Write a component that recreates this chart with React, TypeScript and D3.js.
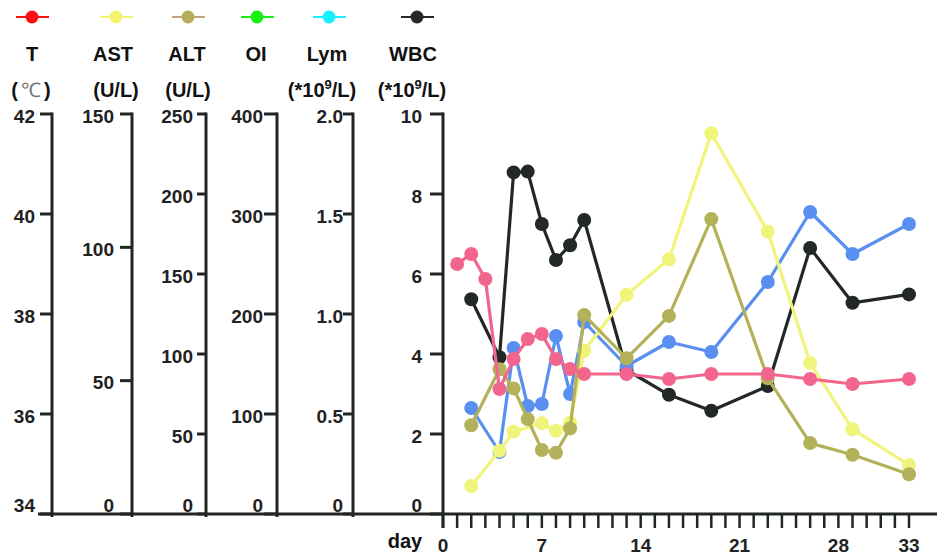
import React from "react";
import * as d3 from "d3";

// ---------- data ----------
const days = [0, 7, 14, 21, 28, 33];
const tDays = [1, 2, 3, 4, 5, 6, 7, 8, 9, 10, 13, 16, 19, 23, 26, 29, 33];
const tValues = [39.0, 39.2, 38.7, 36.5, 37.1, 37.5, 37.6, 37.1, 36.9, 36.8, 36.8, 36.7, 36.8, 36.8, 36.7, 36.6, 36.7];
const labDays = [2, 4, 5, 6, 7, 8, 9, 10, 13, 16, 19, 23, 26, 29, 33];
const astDays = [2, 4, 5, 7, 8, 9, 10, 13, 16, 19, 23, 26, 29, 33];
const astValues = [10.5, 23.7, 30.9, 34.0, 31.2, 34.3, 61.2, 82.2, 95.5, 142.8, 105.9, 56.6, 31.8, 18.4];
const altValues = [55.5, 90.5, 78.5, 59.3, 40.0, 38.3, 53.5, 124.3, 97.3, 123.8, 184.3, 84.8, 44.3, 37.0, 24.8];
const lymValues = [0.53, 0.31, 0.83, 0.54, 0.55, 0.89, 0.6, 0.96, 0.74, 0.86, 0.81, 1.16, 1.51, 1.3, 1.45];
const wbcValues = [5.37, 3.92, 8.54, 8.56, 7.25, 6.35, 6.72, 7.35, 3.6, 2.98, 2.58, 3.2, 6.65, 5.28, 5.49];

const tTicks = [34, 36, 38, 40, 42];
const astTicks = [0, 50, 100, 150];
const altTicks = [0, 50, 100, 150, 200, 250];
const oiTicks = [0, 100, 200, 300, 400];
const lymTicks = [0, 0.5, 1.0, 1.5, 2.0];
const wbcTicks = [0, 2, 4, 6, 8, 10];
const dayTicks = d3.range(0, 34);

const seriesNames = ["T", "AST", "ALT", "OI", "Lym", "WBC"];

// ---------- layout / style ----------
const W = 937;
const H = 559;
const Y_TOP = 114;
const Y_BOT = 514;
const AXIS_COLOR = "#202624";
const FONT = "'Liberation Sans', Arial, sans-serif";

const x = d3.scaleLinear().domain([0, 33]).range([443, 909]);
const mkY = (ticks: number[]) =>
  d3.scaleLinear().domain(d3.extent(ticks) as [number, number]).range([Y_BOT, Y_TOP]);

const axes = [
  { name: "T", ticks: tTicks, ax: 52, tickLen: 12, lab: 17, fmt: (v: number) => String(v), legendX: 32, legendColor: "#ff1010", legendLine: "#ff1010" },
  { name: "AST", ticks: astTicks, ax: 132, tickLen: 12, lab: 18, fmt: (v: number) => String(v), legendX: 116, legendColor: "#f3f36e", legendLine: "#f3f36e" },
  { name: "ALT", ticks: altTicks, ax: 206, tickLen: 9, lab: 13, fmt: (v: number) => String(v), legendX: 188, legendColor: "#b6ad5c", legendLine: "#c2a47e" },
  { name: "OI", ticks: oiTicks, ax: 277, tickLen: 13, lab: 14, fmt: (v: number) => String(v), legendX: 257, legendColor: "#18f018", legendLine: "#18f018" },
  { name: "Lym", ticks: lymTicks, ax: 353, tickLen: 10, lab: 10, fmt: (v: number) => (v === 0 ? "0" : d3.format(".1f")(v)), legendX: 329, legendColor: "#18f0ff", legendLine: "#18f0ff" },
  { name: "WBC", ticks: wbcTicks, ax: 443, tickLen: 13, lab: 21, fmt: (v: number) => String(v), legendX: 417, legendColor: "#232826", legendLine: "#232826" },
];

const titleX = [32, 113, 187, 256, 327, 413];

const yT = mkY(tTicks);
const yAST = mkY(astTicks);
const yALT = mkY(altTicks);
const yLym = mkY(lymTicks);
const yWBC = mkY(wbcTicks);

const series = [
  { key: "WBC", dx: labDays, vals: wbcValues, y: yWBC, color: "#222826" },
  { key: "Lym", dx: labDays, vals: lymValues, y: yLym, color: "#5a8ff2" },
  { key: "AST", dx: astDays, vals: astValues, y: yAST, color: "#f1f47a" },
  { key: "ALT", dx: labDays, vals: altValues, y: yALT, color: "#b3b159" },
  { key: "T", dx: tDays, vals: tValues, y: yT, color: "#f2668e" },
];

function Units({ i }: { i: number }) {
  const cx = [31, 116, 188, 256, 322, 412][i];
  const common = { x: cx, y: 97, textAnchor: "middle" as const, fontFamily: FONT, fontWeight: 700, fontSize: 20, fill: "#111" };
  if (i === 0)
    return (
      <text {...common}>
        (<tspan fontWeight={400} fill="#777" dx={3}>℃</tspan><tspan dx={3}>)</tspan>
      </text>
    );
  if (i === 1 || i === 2) return <text {...common}>(U/L)</text>;
  if (i === 4 || i === 5)
    return (
      <text {...common}>
        (*10<tspan fontSize={13} dy={-8}>9</tspan>
        <tspan dy={8}>/L)</tspan>
      </text>
    );
  return null;
}

export default function App() {
  return (
    <svg
      width={W}
      height={H}
      viewBox={`0 0 ${W} ${H}`}
      style={{ position: "absolute", left: 0, top: 0, background: "#fff", display: "block" }}
    >
      <rect width={W} height={H} fill="#fff" />
      {/* legend */}
      {axes.map((a, i) => (
        <g key={"lg" + i}>
          <line x1={a.legendX - 16} x2={a.legendX + 17} y1={17} y2={17} stroke={a.legendLine} strokeWidth={2.2} />
          <circle cx={a.legendX} cy={17} r={6.5} fill={a.legendColor} />
          <text x={titleX[i]} y={61} textAnchor="middle" fontFamily={FONT} fontWeight={700} fontSize={20} fill="#111">
            {seriesNames[i]}
          </text>
          <Units i={i} />
        </g>
      ))}

      {/* y axes */}
      {axes.map((a, i) => {
        const y = mkY(a.ticks);
        const minV = d3.min(a.ticks) as number;
        return (
          <g key={"ax" + i}>
            <line x1={a.ax} x2={a.ax} y1={Y_TOP - 1.5} y2={i === 5 ? 528 : Y_BOT + 3} stroke={AXIS_COLOR} strokeWidth={3} />
            {a.ticks.map((t) => (
              <g key={t}>
                <line x1={a.ax - a.tickLen} x2={a.ax} y1={y(t)} y2={y(t)} stroke={AXIS_COLOR} strokeWidth={3} />
                <text
                  x={a.ax - a.lab}
                  y={t === minV ? y(t) - 9 : y(t) + 2}
                  textAnchor="end"
                  dominantBaseline="central"
                  fontFamily={FONT}
                  fontWeight={700}
                  fontSize={19}
                  fill="#222"
                >
                  {a.fmt(t)}
                </text>
              </g>
            ))}
          </g>
        );
      })}

      {/* baseline + x axis */}
      <line x1={38} x2={W} y1={Y_BOT} y2={Y_BOT} stroke={AXIS_COLOR} strokeWidth={3} />
      {dayTicks.map((d) => (
        <line key={"xt" + d} x1={x(d)} x2={x(d)} y1={Y_BOT} y2={528} stroke={AXIS_COLOR} strokeWidth={2.5} />
      ))}
      {days.map((d) => (
        <text key={"xl" + d} x={x(d)} y={552} textAnchor="middle" fontFamily={FONT} fontWeight={700} fontSize={19} fill="#222">
          {d}
        </text>
      ))}
      <text x={405} y={548} textAnchor="middle" fontFamily={FONT} fontWeight={700} fontSize={20} fill="#111">
        day
      </text>

      {/* series */}
      {series.map((s) => {
        const pts: [number, number][] = s.dx.map((d, i) => [x(d), s.y(s.vals[i])]);
        const path = d3.line()(pts) || "";
        return (
          <g key={s.key}>
            <path d={path} fill="none" stroke={s.color} strokeWidth={3.2} strokeLinejoin="round" />
            {pts.map((p, i) => (
              <circle key={i} cx={p[0]} cy={p[1]} r={7} fill={s.color} />
            ))}
          </g>
        );
      })}
    </svg>
  );
}
